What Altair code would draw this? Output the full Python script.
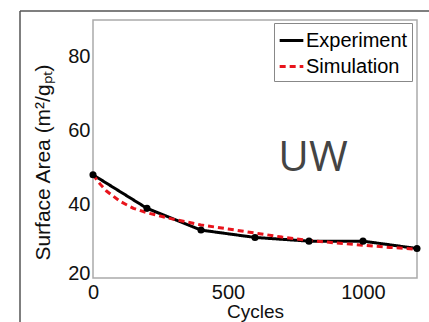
import altair as alt
import pandas as pd

exp_cycles = [0, 200, 400, 600, 800, 1000, 1200]
exp_area = [48, 38.9, 33, 31, 30, 30, 28]

sim_cycles = [0, 25, 50, 100, 150, 200, 300, 400, 500, 600, 700, 800, 900, 1000, 1100, 1200]
sim_area = [48, 45.6, 43.6, 40.8, 38.9, 37.7, 35.9, 34.4, 33.3, 32.2, 31.1, 30.2, 29.5, 28.9, 28.3, 27.8]

series = ["Experiment", "Simulation"]
colors = ["#000000", "#e8141c"]
dashes = [[1, 0], [6, 4]]

df = pd.concat([
    pd.DataFrame({"Cycles": exp_cycles, "Area": exp_area, "Series": "Experiment"}),
    pd.DataFrame({"Cycles": sim_cycles, "Area": sim_area, "Series": "Simulation"}),
])

FONT = "Liberation Sans"

x = alt.X("Cycles:Q", scale=alt.Scale(domain=[0, 1200], nice=False),
          axis=alt.Axis(values=[0, 500, 1000], format="d", title="Cycles", grid=False,
                        labelFlush=False, labelPadding=4))
y = alt.Y("Area:Q", scale=alt.Scale(domain=[20, 90], nice=False),
          axis=alt.Axis(values=[20, 40, 60, 80], format="d", title="Surface Area (m²/gₚₜ)", grid=False,
                        labelFlush=True, labelFlushOffset=5))

lines = alt.Chart(df).mark_line(strokeWidth=3).encode(
    x=x, y=y,
    color=alt.Color("Series:N", scale=alt.Scale(domain=series, range=colors),
                    legend=alt.Legend(title=None, orient="none", legendX=181, legendY=3,
                                      symbolType="stroke", symbolSize=560, symbolStrokeWidth=3,
                                      labelFontSize=20, labelFont=FONT, labelColor="#000",
                                      strokeColor="#888", fillColor="white", padding=4,
                                      rowPadding=2, symbolOffset=0, labelOffset=1)),
    strokeDash=alt.StrokeDash("Series:N", scale=alt.Scale(domain=series, range=dashes), legend=None),
)

pts = alt.Chart(pd.DataFrame({"Cycles": exp_cycles, "Area": exp_area})).mark_circle(
    size=50, color="black", opacity=1).encode(x="Cycles:Q", y="Area:Q")

uw = alt.Chart(pd.DataFrame({"t": ["UW"]})).mark_text(
    fontSize=42, font="Open Sans", color="#444444", align="center", baseline="alphabetic"
).encode(text="t:N", x=alt.value(220), y=alt.value(151))

frame_top = alt.Chart(pd.DataFrame({"a": [0]})).mark_rule(color="#555555", strokeWidth=1.5).encode(
    x=alt.value(-73), x2=alt.value(336), y=alt.value(-9))
frame_left = alt.Chart(pd.DataFrame({"a": [0]})).mark_rule(color="#555555", strokeWidth=1.5).encode(
    x=alt.value(-73), y=alt.value(-9), y2=alt.value(310))

chart = alt.layer(lines, pts, uw, frame_top, frame_left).properties(
    width=324, height=258,
    autosize=alt.AutoSizeParams(type="none"),
    padding={"left": 93, "top": 20, "right": 12, "bottom": 44},
).configure_view(stroke="#aaaaaa", strokeWidth=1.5).configure_axis(
    labelFont=FONT, titleFont=FONT, labelFontSize=20, titleFontSize=20,
    labelColor="#111", titleColor="#111", titleFontWeight="normal",
    domain=False, ticks=False, labelPadding=3,
).configure_axisX(titlePadding=0, titleFontSize=19).configure_axisY(
    titlePadding=14, titleFontSize=21, titleY=142, titleBaseline="bottom")

chart.save("out.html", embed_options={"renderer": "svg", "actions": False})
